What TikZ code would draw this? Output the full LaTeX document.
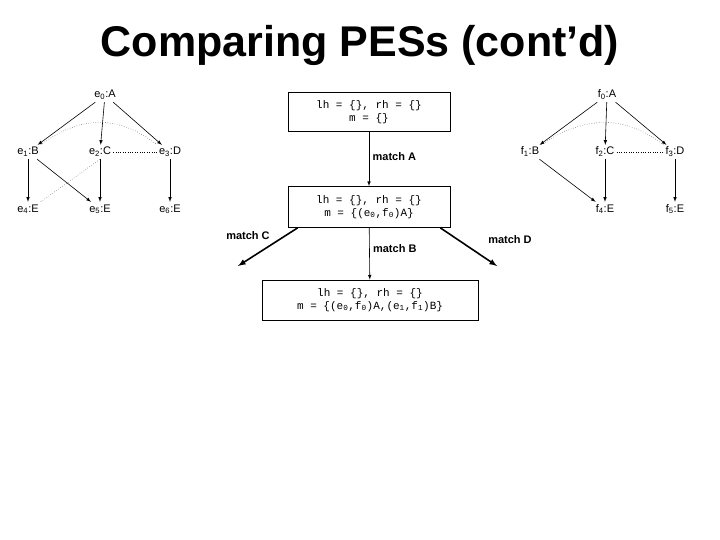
\documentclass[tikz,border=0pt]{standalone}
\usepackage{fontspec}
\setmainfont{Liberation Sans}
\setmonofont{Liberation Mono}
\newcommand{\sbx}[1]{\textsubscript{#1}}
\begin{document}
\begin{tikzpicture}[x=1pt,y=-1pt,
 ev/.style={font=\fontsize{11}{12}\selectfont, inner sep=2pt, text height=8pt, text depth=2pt},
 ar/.style={-latex, semithick},
 dot/.style={dotted, thin},
 box/.style={draw, thick, font=\ttfamily\fontsize{11}{13}\selectfont, align=center, inner sep=2pt},
 lab/.style={font=\bfseries\fontsize{11}{12}\selectfont}]
\useasboundingbox (0,0) rectangle (720,540);
\node[font=\bfseries\fontsize{43}{46}\selectfont] (title) at (360,45) {Comparing PESs (cont’d)};
% left PES
\node[ev] (e0) at (105,95) {e\sbx{0}:A};
\node[ev] (e1) at (28,152) {e\sbx{1}:B};
\node[ev] (e2) at (100,152) {e\sbx{2}:C};
\node[ev] (e3) at (170,152) {e\sbx{3}:D};
\node[ev] (e4) at (28,209) {e\sbx{4}:E};
\node[ev] (e5) at (100,209) {e\sbx{5}:E};
\node[ev] (e6) at (170,209) {e\sbx{6}:E};
\draw[ar] (e0) -- (e1); \draw[ar] (e0) -- (e2); \draw[ar] (e0) -- (e3);
\draw[ar] (e1) -- (e4); \draw[ar] (e1) -- (e5); \draw[ar] (e2) -- (e5); \draw[ar] (e3) -- (e6);
\draw[dot] (e1.north east) .. controls (80,115) and (120,115) .. (e3.north west);
\draw[dot] (e2) -- (e3);
\draw[dot] (e4.north east) -- (e2.south);
% right PES
\node[ev] (f0) at (607,95) {f\sbx{0}:A};
\node[ev] (f1) at (530,152) {f\sbx{1}:B};
\node[ev] (f2) at (605,152) {f\sbx{2}:C};
\node[ev] (f3) at (675,152) {f\sbx{3}:D};
\node[ev] (f4) at (605,209) {f\sbx{4}:E};
\node[ev] (f5) at (675,209) {f\sbx{5}:E};
\draw[ar] (f0) -- (f1); \draw[ar] (f0) -- (f2); \draw[ar] (f0) -- (f3);
\draw[ar] (f1) -- (f4); \draw[ar] (f2) -- (f4); \draw[ar] (f3) -- (f5);
\draw[dot] (f1.north east) .. controls (585,115) and (625,115) .. (f3.north west);
\draw[dot] (f2) -- (f3);
% centre
\node[box, minimum width=162, minimum height=39] (b1) at (369,112) {lh = \{\}, rh = \{\}\\m = \{\}};
\node[box, minimum width=162, minimum height=41] (b2) at (369,207) {lh = \{\}, rh = \{\}\\m = \{(e\sbx{0},f\sbx{0})A\}};
\node[box, minimum width=216, minimum height=40] (b3) at (370,300) {lh = \{\}, rh = \{\}\\m = \{(e\sbx{0},f\sbx{0})A,(e\sbx{1},f\sbx{1})B\}};
\draw[ar] (b1) -- node[lab, right, pos=0.45] {match A} (b2);
\draw[ar] (b2) -- node[lab, right, pos=0.4] {match B} (b3);
\coordinate (cL) at (238,266);
\coordinate (cR) at (497,266);
\draw[-latex, line width=1.6pt] (b2.south west) ++(10,0) -- (cL);
\draw[-latex, line width=1.6pt] (b2.south east) ++(-10,0) -- (cR);
\node[lab] (mC) at (248,236) {match C};
\node[lab] (mD) at (510,240) {match D};
\end{tikzpicture}
\end{document}
